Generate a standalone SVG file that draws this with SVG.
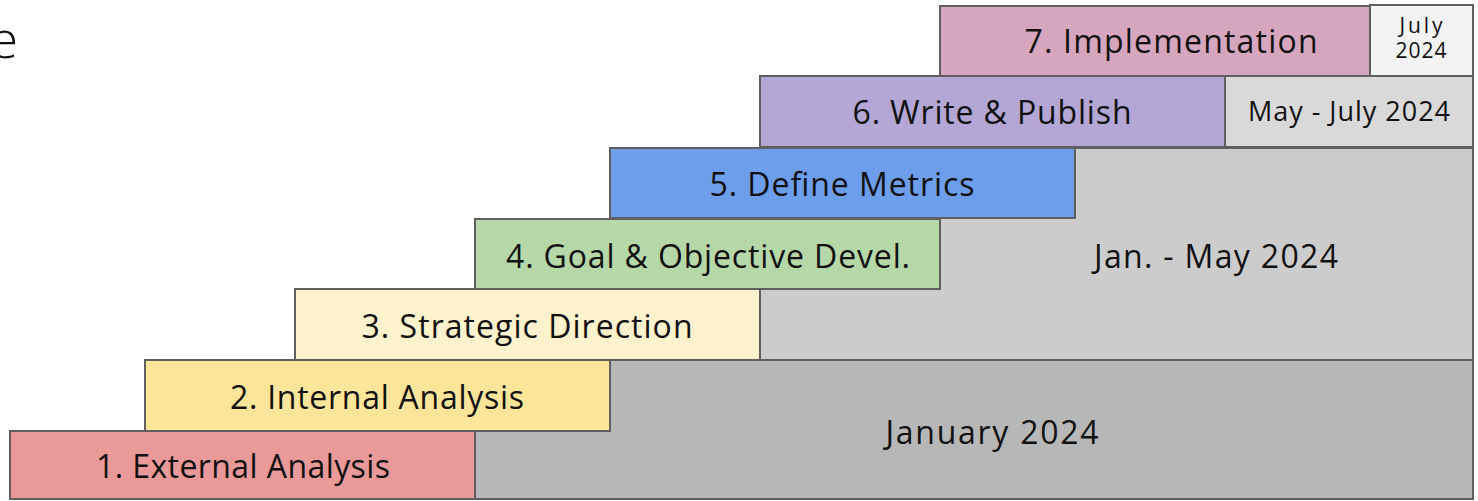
<svg xmlns="http://www.w3.org/2000/svg" width="1478" height="501" viewBox="0 0 1478 501">
<style>
rect{stroke:#5f5f5f;stroke-width:2}
text{font-family:"Open Sans","Noto Sans",sans-serif;fill:#111;text-anchor:middle}
.l{font-size:32px}
.m{font-size:32px}
.s{font-size:27px}
.xs{font-size:21px}
</style>
<text x="18" y="58" style="font-size:52px;font-weight:300;text-anchor:end">e</text>
<g id="bg-jan"><rect x="475" y="360" width="998" height="139" fill="#b7b7b7"/><text class="m" x="992" y="444" textLength="213" lengthAdjust="spacing">January 2024</text></g>
<g id="bg-janmay"><rect x="760" y="148" width="713" height="212" fill="#cccccc"/><text class="m" x="1216" y="268" textLength="244" lengthAdjust="spacing">Jan. - May 2024</text></g>
<g id="bg-mayjuly"><rect x="1225" y="76" width="248" height="71" fill="#d9d9d9"/><text class="s" x="1349" y="121" textLength="202" lengthAdjust="spacing">May - July 2024</text></g>
<g id="bg-july"><rect x="1370" y="5" width="103" height="71" fill="#f3f3f3"/><text class="xs" x="1421" y="33" textLength="43" lengthAdjust="spacing">July</text><text class="xs" x="1421" y="58" textLength="51" lengthAdjust="spacing">2024</text></g>
<g id="step1"><rect x="10" y="431" width="465" height="68" fill="#ea9999"/><text class="l" x="243" y="478" textLength="294" lengthAdjust="spacing">1. External Analysis</text></g>
<g id="step2"><rect x="145" y="360" width="465" height="71" fill="#ffe599"/><text class="l" x="377" y="409" textLength="294" lengthAdjust="spacing">2. Internal Analysis</text></g>
<g id="step3"><rect x="295" y="289" width="465" height="71" fill="#fff2cc"/><text class="l" x="527" y="338" textLength="331" lengthAdjust="spacing">3. Strategic Direction</text></g>
<g id="step4"><rect x="475" y="219" width="465" height="70" fill="#b6d7a8"/><text class="l" x="708" y="268" textLength="404" lengthAdjust="spacing">4. Goal &amp; Objective Devel.</text></g>
<g id="step5"><rect x="610" y="148" width="465" height="70" fill="#6d9eeb"/><text class="l" x="842" y="196" textLength="265" lengthAdjust="spacing">5. Define Metrics</text></g>
<g id="step6"><rect x="760" y="76" width="465" height="71" fill="#b4a7d6"/><text class="l" x="992" y="124" textLength="279" lengthAdjust="spacing">6. Write &amp; Publish</text></g>
<g id="step7"><rect x="940" y="6" width="430" height="70" fill="#d5a6bd"/><text class="l" x="1171" y="53" textLength="293" lengthAdjust="spacing">7. Implementation</text></g>
<g id="connectors"></g>
</svg>
